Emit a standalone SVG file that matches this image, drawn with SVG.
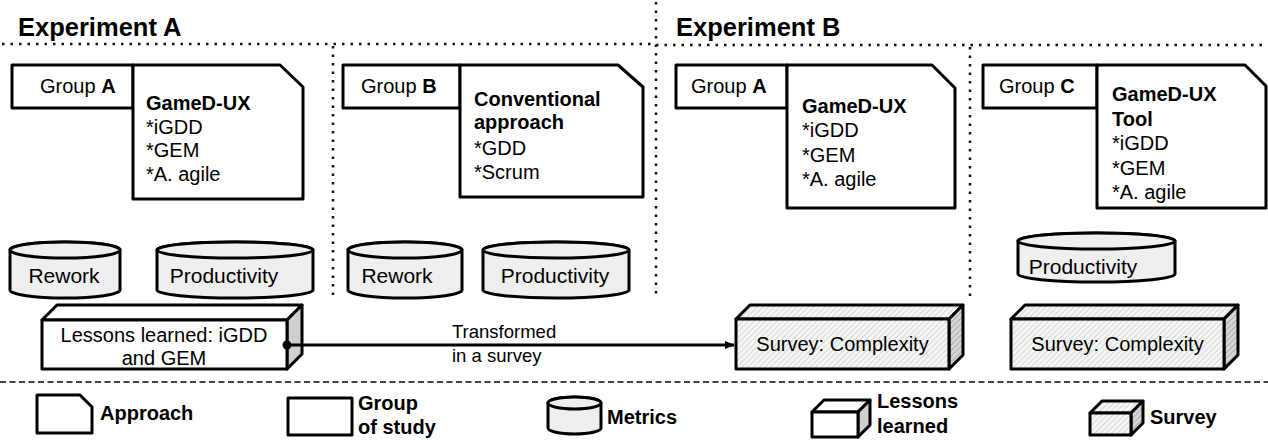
<svg xmlns="http://www.w3.org/2000/svg" width="1268" height="440" viewBox="0 0 1268 440">
<style>
text{font-family:"Liberation Sans",Arial,sans-serif;fill:#000}
.h{font-size:25.5px;font-weight:bold}
.t{font-size:20px}
.c{font-size:21px}
.b{font-weight:bold}
.s{font-size:20px}
.m{font-size:18.5px}
.lg{font-size:20px;font-weight:bold}
.box{fill:#fff;stroke:#000;stroke-width:3;stroke-linejoin:round}
.cyl{fill:#efefef;stroke:#000;stroke-width:3;stroke-linejoin:round}
.side{fill:#cfcfcf;stroke:#000;stroke-width:3;stroke-linejoin:round}
.hat{fill:url(#hatch);stroke:#000;stroke-width:3;stroke-linejoin:round}
.hats{fill:url(#hatchd);stroke:#000;stroke-width:3;stroke-linejoin:round}
.dot{fill:none;stroke:#111;stroke-width:2.5;stroke-dasharray:2.5 6}
.dash{fill:none;stroke:#444;stroke-width:2;stroke-dasharray:6 3.5}
</style>
<defs>
<pattern id="hatch" width="4" height="4" patternUnits="userSpaceOnUse" patternTransform="rotate(45)">
<rect width="4" height="4" fill="#f6f6f6"/>
<line x1="0" y1="0" x2="0" y2="4" stroke="#bdbdbd" stroke-width="1.1"/>
</pattern>
<pattern id="hatchd" width="4" height="4" patternUnits="userSpaceOnUse" patternTransform="rotate(45)">
<rect width="4" height="4" fill="#d8d8d8"/>
<line x1="0" y1="0" x2="0" y2="4" stroke="#8a8a8a" stroke-width="1.1"/>
</pattern>
<marker id="arr" markerWidth="10" markerHeight="8" refX="9" refY="4" orient="auto" markerUnits="userSpaceOnUse">
<path d="M0,0 L10,4 L0,8 Z" fill="#000"/>
</marker>
</defs>

<g id="frames">
<text class="h" x="18" y="36">Experiment A</text>
<text class="h" x="676" y="36">Experiment B</text>
<line class="dot" x1="2" y1="44" x2="656" y2="44"/>
<line class="dot" x1="656" y1="45" x2="1268" y2="45"/>
<line class="dot" x1="333" y1="46" x2="333" y2="298"/>
<line class="dot" x1="656" y1="2" x2="656" y2="298"/>
<line class="dot" x1="970" y1="47" x2="970" y2="298"/>
<line class="dash" x1="0" y1="382" x2="1268" y2="382"/>
</g>

<g id="expA-groupA">
<rect class="box" x="12" y="65" width="121" height="43"/>
<text class="t" x="40" y="93">Group <tspan class="b">A</tspan></text>
<path class="box" d="M133,65 H280 L303,87 V199 H133 Z"/>
<text class="t" x="146" y="110"><tspan class="b" x="146">GameD-UX</tspan><tspan x="146" dy="23.7">*iGDD</tspan><tspan x="146" dy="23.7">*GEM</tspan><tspan x="146" dy="23.7">*A. agile</tspan></text>
</g>

<g id="expA-groupB">
<rect class="box" x="343" y="65" width="117" height="43"/>
<text class="t" x="361" y="93">Group <tspan class="b">B</tspan></text>
<path class="box" d="M460,65 H618 L643,87 V197 H460 Z"/>
<text class="t" x="474" y="106"><tspan class="b" x="474">Conventional</tspan><tspan class="b" x="474" dy="23">approach</tspan><tspan x="474" dy="26">*GDD</tspan><tspan x="474" dy="24">*Scrum</tspan></text>
</g>

<g id="expB-groupA">
<rect class="box" x="676" y="65" width="111" height="43"/>
<text class="t" x="691" y="93">Group <tspan class="b">A</tspan></text>
<path class="box" d="M787,65 H932 L955,88 V208 H787 Z"/>
<text class="t" x="802" y="113"><tspan class="b" x="802">GameD-UX</tspan><tspan x="802" dy="24.3">*iGDD</tspan><tspan x="802" dy="24.3">*GEM</tspan><tspan x="802" dy="24.3">*A. agile</tspan></text>
</g>

<g id="expB-groupC">
<rect class="box" x="983" y="65" width="114" height="43"/>
<text class="t" x="999" y="93">Group <tspan class="b">C</tspan></text>
<path class="box" d="M1097,65 H1245 L1266,86 V208 H1097 Z"/>
<text class="t" x="1112" y="101"><tspan class="b" x="1112">GameD-UX</tspan><tspan class="b" x="1112" dy="24.5">Tool</tspan><tspan x="1112" dy="24.5">*iGDD</tspan><tspan x="1112" dy="24.5">*GEM</tspan><tspan x="1112" dy="24.5">*A. agile</tspan></text>
</g>

<g id="metric-rework-A">
<path class="cyl" d="M10,250 A55,8 0 0 1 120,250 V290 A55,8 0 0 1 10,290 Z"/>
<ellipse cx="65" cy="250" rx="55" ry="8" fill="#efefef" stroke="#000" stroke-width="3"/>
<text class="c" x="64" y="283" text-anchor="middle">Rework</text>
</g>
<g id="metric-productivity-A">
<path class="cyl" d="M157,250 A78,8 0 0 1 313,250 V290 A78,8 0 0 1 157,290 Z"/>
<ellipse cx="235" cy="250" rx="78" ry="8" fill="#efefef" stroke="#000" stroke-width="3"/>
<text class="c" x="224" y="283" text-anchor="middle">Productivity</text>
</g>
<g id="metric-rework-B">
<path class="cyl" d="M348,250 A57,8 0 0 1 462,250 V290 A57,8 0 0 1 348,290 Z"/>
<ellipse cx="405" cy="250" rx="57" ry="8" fill="#efefef" stroke="#000" stroke-width="3"/>
<text class="c" x="397" y="283" text-anchor="middle">Rework</text>
</g>
<g id="metric-productivity-B">
<path class="cyl" d="M483,250 A73,8 0 0 1 629,250 V290 A73,8 0 0 1 483,290 Z"/>
<ellipse cx="556" cy="250" rx="73" ry="8" fill="#efefef" stroke="#000" stroke-width="3"/>
<text class="c" x="555" y="283" text-anchor="middle">Productivity</text>
</g>
<g id="metric-productivity-C">
<path class="cyl" d="M1018,241 A78.5,8 0 0 1 1175,241 V274 A78.5,8 0 0 1 1018,274 Z"/>
<ellipse cx="1096.5" cy="241" rx="78.5" ry="8" fill="#efefef" stroke="#000" stroke-width="3"/>
<text class="c" x="1083" y="274" text-anchor="middle">Productivity</text>
</g>

<g id="lessons-learned">
<polygon class="box" points="42,320 57,305 302,305 287,320"/>
<polygon class="side" points="287,320 302,305 302,354 287,369"/>
<rect class="box" x="42" y="320" width="245" height="49"/>
<text class="s" x="164" y="342" text-anchor="middle">Lessons learned: iGDD</text>
<text class="s" x="164" y="365" text-anchor="middle">and GEM</text>
</g>

<g id="survey-B-A">
<polygon class="hat" points="736,319 750,305 963,305 949,319"/>
<polygon class="hats" points="949,319 963,305 963,355 949,369"/>
<rect class="hat" x="736" y="319" width="213" height="50"/>
<text class="s" x="842.5" y="351" text-anchor="middle">Survey: Complexity</text>
</g>

<g id="survey-B-C">
<polygon class="hat" points="1011,319 1025,305 1238,305 1224,319"/>
<polygon class="hats" points="1224,319 1238,305 1238,355 1224,369"/>
<rect class="hat" x="1011" y="319" width="213" height="50"/>
<text class="s" x="1117.5" y="351" text-anchor="middle">Survey: Complexity</text>
</g>

<g id="connectors">
<line x1="287" y1="345" x2="734" y2="345" stroke="#000" stroke-width="3" marker-end="url(#arr)"/>
<circle cx="287" cy="345" r="4.5" fill="#000"/>
<text class="m" x="452" y="338">Transformed</text>
<text class="m" x="452" y="362">in a survey</text>
</g>

<g id="legend">
<g id="legend-approach">
<path class="box" d="M37,395 H80 L92,407 V433 H37 Z"/>
<text class="lg" x="100" y="420">Approach</text>
</g>
<g id="legend-group">
<rect class="box" x="288" y="398" width="64" height="37"/>
<text class="lg" x="358" y="410">Group</text>
<text class="lg" x="358" y="434">of study</text>
</g>
<g id="legend-metrics">
<path class="cyl" d="M548,403 A26.5,6 0 0 1 601,403 V428 A26.5,6 0 0 1 548,428 Z"/>
<ellipse cx="574.5" cy="403" rx="26.5" ry="6" fill="#efefef" stroke="#000" stroke-width="3"/>
<text class="lg" x="607" y="424">Metrics</text>
</g>
<g id="legend-lessons">
<polygon class="box" points="812,412 824,400 870,400 858,412"/>
<polygon class="side" points="858,412 870,400 870,425 858,437"/>
<rect class="box" x="812" y="412" width="46" height="25"/>
<text class="lg" x="877" y="408">Lessons</text>
<text class="lg" x="877" y="433">learned</text>
</g>
<g id="legend-survey">
<polygon class="hat" points="1090,413 1102,401 1143,401 1131,413"/>
<polygon class="hats" points="1131,413 1143,401 1143,423 1131,435"/>
<rect class="hat" x="1090" y="413" width="41" height="22"/>
<text class="lg" x="1150" y="424">Survey</text>
</g>
</g>
</svg>
